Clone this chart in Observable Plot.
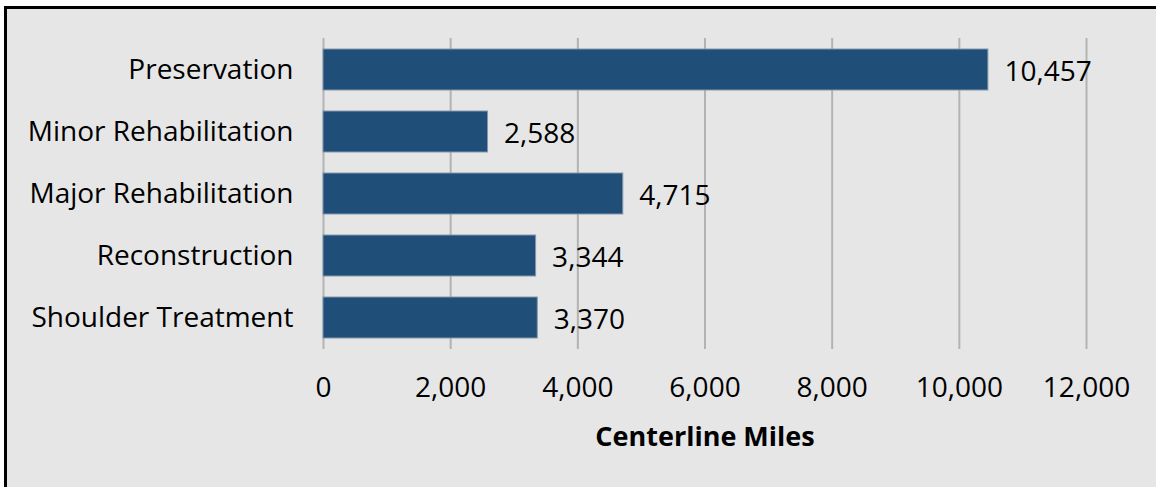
<!DOCTYPE html>
<html>
<head>
<meta charset="utf-8">
<script src="https://cdn.jsdelivr.net/npm/d3@7"></script>
<script src="https://cdn.jsdelivr.net/npm/@observablehq/plot@0.6"></script>
<style>
  html, body { margin: 0; padding: 0; background: #ffffff; }
  #frame {
    position: absolute; left: 4px; top: 6px;
    width: 1149px; height: 478px;
    background: #e6e6e6;
    border-top: 3px solid #000; border-left: 3px solid #000;
    overflow: hidden;
  }
  #frame svg { display: block; }
</style>
</head>
<body>
<div id="frame"></div>
<script>
const categories = ["Preservation", "Minor Rehabilitation", "Major Rehabilitation", "Reconstruction", "Shoulder Treatment"];
const miles = [10457, 2588, 4715, 3344, 3370];
const xTicks = [0, 2000, 4000, 6000, 8000, 10000, 12000];
const axisTitle = "Centerline Miles";

const data = categories.map((c, i) => ({category: c, value: miles[i]}));
const fmt = d3.format(",");
const font = "'Open Sans', sans-serif";

const chart = Plot.plot({
  width: 1149,
  height: 478,
  marginLeft: 316,
  marginRight: 70,
  marginTop: 29,
  marginBottom: 138,
  style: {background: "transparent", fontFamily: font, color: "#000"},
  x: {domain: [0, 12000], ticks: xTicks},
  y: {domain: categories, paddingInner: 0.34, paddingOuter: 0.17},
  marks: [
    Plot.ruleX(xTicks, {stroke: "#b3b3b3", strokeWidth: 2, strokeOpacity: 1}),
    Plot.barX(data, {x: "value", y: "category", fill: "#1f4e79", stroke: "#8596ab", strokeWidth: 1}),
    Plot.text(data, {x: "value", y: "category", text: d => fmt(d.value), textAnchor: "start", dx: 16, dy: 2, fontSize: 28, fill: "#000"}),
    Plot.axisX(xTicks, {tickSize: 0, tickPadding: 28, fontSize: 28, tickFormat: fmt, label: null, fill: "#000"}),
    Plot.axisY({tickSize: 0, tickPadding: 30, fontSize: 28, label: null, fill: "#000"}),
    Plot.text([axisTitle], {frameAnchor: "bottom", dy: 96, fontSize: 27, fontWeight: "bold", fill: "#000"})
  ]
});
document.getElementById("frame").appendChild(chart);
</script>
</body>
</html>
